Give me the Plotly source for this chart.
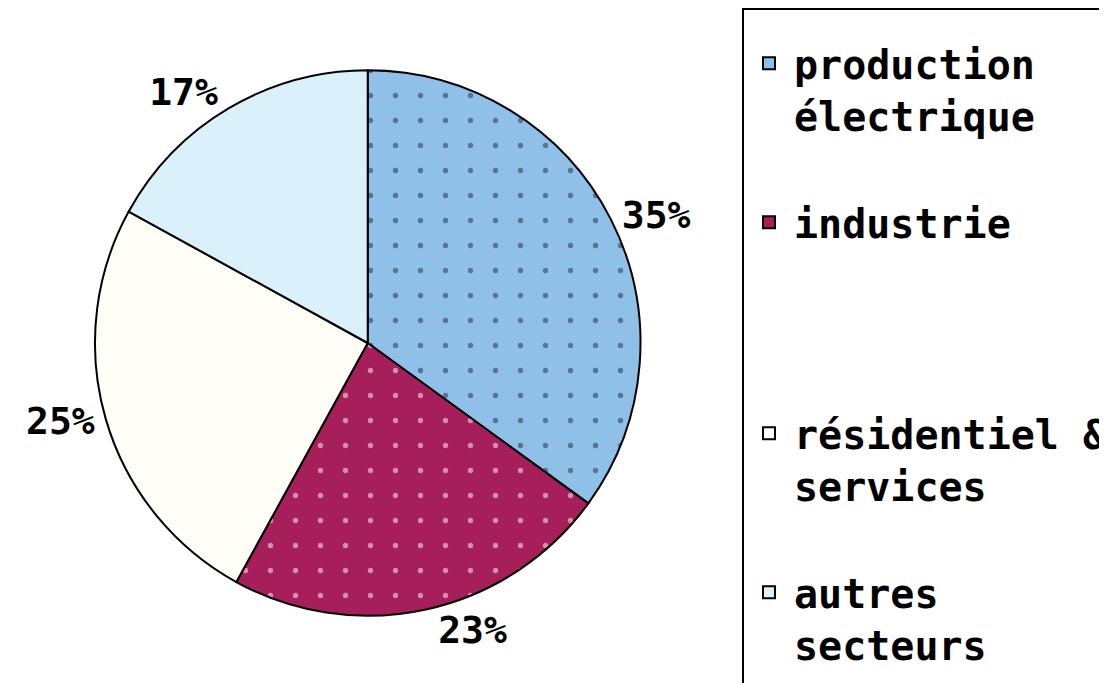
import plotly.graph_objects as go

# secteurs et parts (%)
labels = [
    "production<br>électrique<br> ",
    "industrie<br> <br> <br> ",
    "résidentiel &<br>services<br> ",
    "autres<br>secteurs<br> ",
]
values = [35, 23, 25, 17]
colors = ["#8EC0E8", "#A61E5A", "#FFFFF8", "#DAF0FB"]
dot_shapes = [".", ".", "", ""]
dot_colors = ["#2a2340", "#ffffff", "#000000", "#000000"]

W, H = 1107, 683
font_main = "DejaVu Sans Mono"
cx, cy, r = 364, 335, 276

fig = go.Figure(
    go.Pie(
        labels=labels,
        values=values,
        sort=False,
        direction="clockwise",
        rotation=0,
        marker=dict(
            colors=colors,
            line=dict(color="black", width=2),
            pattern=dict(
                shape=dot_shapes, fgcolor=dot_colors, fillmode="overlay",
                size=25, solidity=0.035,
            ),
        ),
        texttemplate="%{value}%",
        textposition="outside",
        textfont=dict(family=font_main, size=38, color="black", weight="bold"),
        hoverinfo="label+percent",
        domain=dict(x=[(cx - r) / W, (cx + r) / W], y=[1 - (cy + r) / H, 1 - (cy - r) / H]),
    )
)

fig.update_layout(
    width=W,
    height=H,
    margin=dict(l=0, r=0, t=0, b=0),
    paper_bgcolor="white",
    showlegend=True,
    legend=dict(
        x=743 / W,
        y=1 - 3 / H,
        xanchor="left",
        yanchor="top",
        bordercolor="black",
        borderwidth=2,
        bgcolor="white",
        valign="top",
        itemwidth=40,
        title=dict(text=" ", font=dict(size=16)),
        font=dict(family=font_main, size=40, color="black", weight="bold"),
    ),
)

fig.write_html("out.html")
